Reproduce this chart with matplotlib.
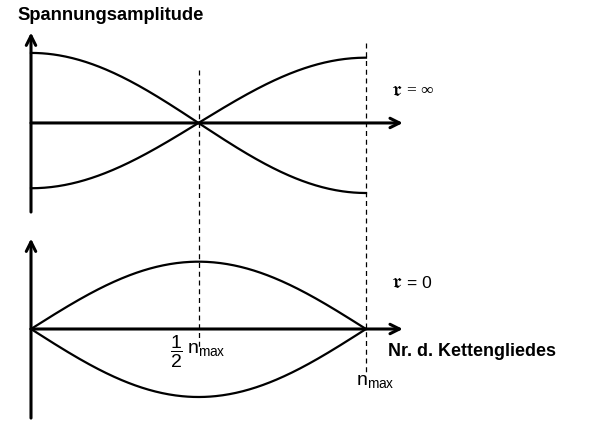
import numpy as np
import matplotlib
matplotlib.use('Agg')
import matplotlib.pyplot as plt

plt.rcParams['font.family'] = ['Liberation Sans', 'DejaVu Sans']
plt.rcParams['mathtext.fontset'] = 'custom'
plt.rcParams['mathtext.rm'] = 'Liberation Sans'
plt.rcParams['mathtext.it'] = 'Liberation Sans:italic'
plt.rcParams['mathtext.bf'] = 'Liberation Sans:bold'

# data: chain member index (in units of n_max) and amplitude envelopes
n_max = 1.0
amp_top = [1.03, -0.96]      # r = inf : upper / lower envelope at the ends
amp_bot = [0.99, -1.0]       # r = 0   : upper / lower envelope in the middle
offset_top = 3.03            # baseline of the upper diagram

W, H = 597, 429
X0, SX = 31, 335             # pixel of n=0, pixels per n_max
Y0, SY = 329, 68             # pixel of lower baseline, pixels per unit

fig = plt.figure(figsize=(W / 100, H / 100), dpi=100)
ax = fig.add_axes([0, 0, 1, 1])
ax.set_xlim(-X0 / SX, (W - X0) / SX)
ax.set_ylim(-(H - Y0) / SY, Y0 / SY)
ax.axis('off')

n = np.linspace(0, n_max, 300)
for a in amp_top:
    ax.plot(n, offset_top + a * np.cos(np.pi * n / n_max), color='black', lw=1.6)
for a in amp_bot:
    ax.plot(n, a * np.sin(np.pi * n / n_max), color='black', lw=1.6)

arrow = dict(arrowstyle='->', lw=2.2, color='black', mutation_scale=17,
             shrinkA=0, shrinkB=0)
x_end = 1.11
for base in (offset_top, 0.0):
    ax.annotate('', xy=(x_end, base), xytext=(0, base), arrowprops=arrow)
    ax.annotate('', xy=(0, base + 1.33), xytext=(0, base - 1.31), arrowprops=arrow)

# dashed guide lines
ax.plot([0.5 * n_max] * 2, [3.81, -0.31], color='black', lw=0.9, ls=(0, (4, 3)))
ax.plot([n_max] * 2, [4.21, -0.68], color='black', lw=0.9, ls=(0, (4, 3)))


def ftext(px, py, s, **kw):
    fig.text(px / W, 1 - py / H, s, va='center', ha='left', **kw)


ftext(17, 16, 'Spannungsamplitude', fontsize=13.2, fontweight='bold')
ftext(391, 91, r'$\mathfrak{r}$', fontsize=16, family=['STIXGeneral'])
ftext(407, 91, '= ∞', fontsize=12.5, family=['Liberation Serif', 'DejaVu Serif'])
ftext(391, 283, r'$\mathfrak{r}$', fontsize=16, family=['STIXGeneral'])
ftext(407, 283, '= 0', fontsize=12.5)
ftext(388, 351, 'Nr. d. Kettengliedes', fontsize=12.9, fontweight='bold')
ftext(170, 352, r'$\dfrac{1}{2}$', fontsize=14)
ftext(187, 350, r'$\mathrm{n}_{\mathrm{max}}$', fontsize=14)
ftext(356, 381, r'$\mathrm{n}_{\mathrm{max}}$', fontsize=14)

fig.savefig('out.png', dpi=100)
